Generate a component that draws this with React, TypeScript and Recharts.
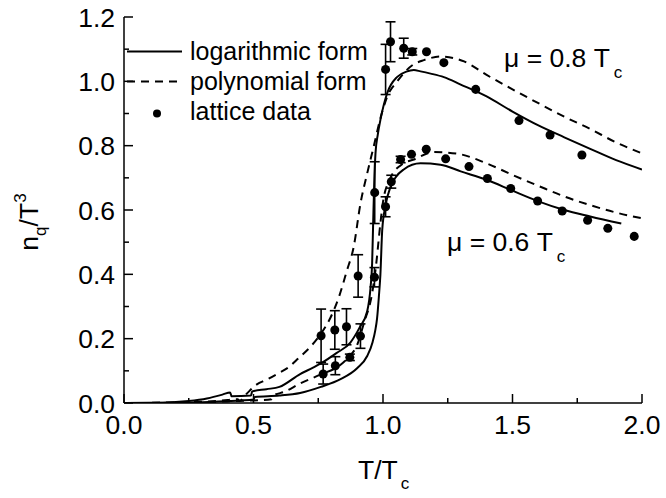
import React from "react";
import { ComposedChart, Line, Scatter, ErrorBar, XAxis, YAxis, Legend } from "recharts";

// curves: [T/Tc, n_q/T^3]
const logHigh: [number, number][] = [
  [0, 0], [0.15, 0.001], [0.25, 0.006], [0.32, 0.014], [0.38, 0.026], [0.41, 0.033],
  [0.415, 0.021], [0.49, 0.023], [0.495, 0.036], [0.55, 0.043], [0.6, 0.05], [0.68, 0.09],
  [0.73, 0.11], [0.76, 0.123], [0.82, 0.155], [0.874, 0.188], [0.91, 0.235], [0.939, 0.285],
  [0.952, 0.36], [0.958, 0.434], [0.962, 0.56], [0.966, 0.68], [0.971, 0.776], [0.98, 0.835],
  [0.99, 0.88], [1.016, 0.963], [1.055, 1.014], [1.09, 1.03], [1.119, 1.035], [1.145, 1.031],
  [1.184, 1.024], [1.235, 1.013], [1.3, 0.99], [1.4, 0.953], [1.5, 0.906], [1.6, 0.863],
  [1.7, 0.826], [1.8, 0.79], [1.9, 0.755], [2.0, 0.726],
];

const polyHigh: [number, number][] = [
  [0, 0], [0.2, 0.001], [0.3, 0.004], [0.4, 0.009], [0.44, 0.012], [0.445, 0.006],
  [0.475, 0.03], [0.513, 0.058], [0.55, 0.072], [0.591, 0.09], [0.642, 0.115], [0.668, 0.135],
  [0.72, 0.175], [0.76, 0.215], [0.797, 0.265], [0.83, 0.33], [0.86, 0.41], [0.887, 0.486],
  [0.913, 0.62], [0.939, 0.714], [0.964, 0.797], [0.99, 0.885], [1.016, 0.952], [1.055, 1.0],
  [1.113, 1.05], [1.158, 1.066], [1.222, 1.077], [1.313, 1.062], [1.4, 1.02], [1.5, 0.975],
  [1.6, 0.932], [1.7, 0.89], [1.8, 0.852], [1.9, 0.81], [2.0, 0.776],
];

const logLow: [number, number][] = [
  [0, 0], [0.25, 0.001], [0.35, 0.004], [0.45, 0.008], [0.5, 0.011], [0.505, 0.019],
  [0.6, 0.023], [0.68, 0.031], [0.76, 0.05], [0.836, 0.074], [0.9, 0.108], [0.939, 0.146],
  [0.96, 0.19], [0.97, 0.225], [0.977, 0.262], [0.984, 0.33], [0.99, 0.4], [0.997, 0.538],
  [1.01, 0.615], [1.029, 0.672], [1.05, 0.703], [1.08, 0.726], [1.145, 0.745], [1.222, 0.741],
  [1.3, 0.72], [1.4, 0.694], [1.5, 0.66], [1.6, 0.627], [1.7, 0.6], [1.8, 0.58], [1.92, 0.558],
];

const polyLow: [number, number][] = [
  [0, 0], [0.3, 0.002], [0.4, 0.005], [0.5, 0.008], [0.57, 0.012], [0.575, 0.022],
  [0.62, 0.035], [0.681, 0.061], [0.758, 0.088], [0.835, 0.118], [0.87, 0.145], [0.9, 0.18],
  [0.926, 0.248], [0.958, 0.341], [0.971, 0.413], [0.99, 0.559], [1.0, 0.625], [1.029, 0.7],
  [1.07, 0.74], [1.119, 0.757], [1.197, 0.78], [1.287, 0.775], [1.4, 0.745], [1.5, 0.709],
  [1.6, 0.675], [1.7, 0.642], [1.8, 0.615], [1.9, 0.592], [2.0, 0.574],
];

// lattice points: [T/Tc, n_q/T^3, error]
const latticeHigh: [number, number, number][] = [
  [0.761, 0.209, 0.083], [0.814, 0.227, 0.06], [0.859, 0.237, 0.056], [0.904, 0.395, 0.066],
  [0.968, 0.654, 0.096], [1.01, 1.037, 0.078], [1.029, 1.123, 0.062], [1.08, 1.103, 0.031],
  [1.113, 1.092, 0.01], [1.168, 1.092, 0], [1.235, 1.058, 0], [1.358, 0.975, 0],
  [1.525, 0.878, 0], [1.645, 0.833, 0], [1.768, 0.771, 0],
];

const latticeLow: [number, number, number][] = [
  [0.769, 0.09, 0.031], [0.816, 0.116, 0.028], [0.872, 0.142, 0.01], [0.913, 0.208, 0.038],
  [0.967, 0.391, 0.03], [1.01, 0.61, 0.031], [1.032, 0.688, 0.02], [1.068, 0.757, 0.01],
  [1.11, 0.773, 0], [1.167, 0.789, 0], [1.242, 0.759, 0], [1.332, 0.735, 0],
  [1.403, 0.698, 0], [1.493, 0.667, 0], [1.597, 0.628, 0], [1.692, 0.597, 0],
  [1.79, 0.568, 0], [1.868, 0.543, 0], [1.97, 0.518, 0],
];

const xTicks = [0, 0.25, 0.5, 0.75, 1, 1.25, 1.5, 1.75, 2];
const yTicks = [0, 0.1, 0.2, 0.3, 0.4, 0.5, 0.6, 0.7, 0.8, 0.9, 1.0, 1.1, 1.2];

const legendItems = [
  { label: "logarithmic form", kind: "solid" },
  { label: "polynomial form", kind: "dashed" },
  { label: "lattice data", kind: "dot" },
];

const ink = "#000";
const font = '"Liberation Sans", Arial, Helvetica, sans-serif';
const dash = "8 6";

const curve = (rows: [number, number][]) => rows.map(([T, n]) => ({ T, n }));
const points = (rows: [number, number, number][]) => rows.map(([T, n, e]) => ({ T, n, e }));

const isMajorX = (v: number) => Math.round(v * 4) % 2 === 0;
const isMajorY = (v: number) => Math.round(v * 10) % 2 === 0;

function BottomTick({ x, y, payload }: any) {
  const major = isMajorX(payload.value);
  return (
    <g>
      <line x1={x} y1={y} x2={x} y2={y - (major ? 9 : 5)} stroke={ink} strokeWidth={1.5} />
      {major && (
        <text x={x} y={y + 31} textAnchor="middle" fontSize={26.5} fill={ink}>
          {payload.value.toFixed(1)}
        </text>
      )}
    </g>
  );
}

function TopTick({ x, y, payload }: any) {
  const major = isMajorX(payload.value);
  return <line x1={x} y1={y} x2={x} y2={y + (major ? 9 : 5)} stroke={ink} strokeWidth={1.5} />;
}

function LeftTick({ x, y, payload }: any) {
  const major = isMajorY(payload.value);
  return (
    <g>
      <line x1={x} y1={y} x2={x + (major ? 9 : 5)} y2={y} stroke={ink} strokeWidth={1.5} />
      {major && (
        <text x={x - 9} y={y + 9.5} textAnchor="end" fontSize={26.5} fill={ink}>
          {payload.value.toFixed(1)}
        </text>
      )}
    </g>
  );
}

function RightTick({ x, y, payload }: any) {
  const major = isMajorY(payload.value);
  return <line x1={x} y1={y} x2={x - (major ? 9 : 5)} y2={y} stroke={ink} strokeWidth={1.5} />;
}

function LegendBox() {
  return (
    <svg width={270} height={96} style={{ display: "block", fontFamily: font }}>
      {legendItems.map((item, i) => {
        const base = 30 + i * 30;
        const mid = base - 8.5;
        return (
          <g key={item.label}>
            {item.kind === "dot" ? (
              <circle cx={30} cy={mid + 2} r={4} fill={ink} />
            ) : (
              <line
                x1={0}
                y1={mid}
                x2={55}
                y2={mid}
                stroke={ink}
                strokeWidth={2}
                strokeDasharray={item.kind === "dashed" ? dash : undefined}
              />
            )}
            <text x={63} y={base} fontSize={25} fill={ink}>
              {item.label}
            </text>
          </g>
        );
      })}
    </svg>
  );
}

export default function App() {
  const lineProps = {
    dataKey: "n",
    stroke: ink,
    strokeWidth: 2,
    dot: false,
    activeDot: false,
    type: "monotone" as const,
    isAnimationActive: false,
  };

  return (
    <div style={{ position: "absolute", left: 0, top: 0, width: 666, height: 498, background: "#fff", fontFamily: font }}>
      <ComposedChart width={666} height={498} margin={{ top: 17, right: 24, left: 0, bottom: 0 }}>
        <XAxis
          dataKey="T"
          type="number"
          domain={[0, 2]}
          ticks={xTicks}
          interval={0}
          height={95}
          tickSize={0}
          tickMargin={0}
          tickLine={false}
          tick={<BottomTick />}
          axisLine={{ stroke: ink, strokeWidth: 1.5 }}
          allowDataOverflow
        />
        <XAxis
          xAxisId="top"
          orientation="top"
          type="number"
          domain={[0, 2]}
          ticks={xTicks}
          interval={0}
          height={0}
          tickSize={0}
          tickMargin={0}
          tickLine={false}
          tick={<TopTick />}
          axisLine={{ stroke: ink, strokeWidth: 1.5 }}
          allowDataOverflow
        />
        <YAxis
          type="number"
          domain={[0, 1.2]}
          ticks={yTicks}
          interval={0}
          width={124}
          tickSize={0}
          tickMargin={0}
          tickLine={false}
          tick={<LeftTick />}
          axisLine={{ stroke: ink, strokeWidth: 1.5 }}
          allowDataOverflow
        />
        <YAxis
          yAxisId="right"
          orientation="right"
          type="number"
          domain={[0, 1.2]}
          ticks={yTicks}
          interval={0}
          width={0}
          tickSize={0}
          tickMargin={0}
          tickLine={false}
          tick={<RightTick />}
          axisLine={{ stroke: ink, strokeWidth: 1.5 }}
          allowDataOverflow
        />
        <Line {...lineProps} data={curve(logHigh)} />
        <Line {...lineProps} data={curve(polyHigh)} strokeDasharray={dash} />
        <Line {...lineProps} data={curve(logLow)} />
        <Line {...lineProps} data={curve(polyLow)} strokeDasharray={dash} />
        <Scatter data={points(latticeHigh)} dataKey="n" fill={ink} isAnimationActive={false}>
          <ErrorBar dataKey="e" direction="y" width={5} stroke={ink} strokeWidth={1.6} />
        </Scatter>
        <Scatter data={points(latticeLow)} dataKey="n" fill={ink} isAnimationActive={false}>
          <ErrorBar dataKey="e" direction="y" width={5} stroke={ink} strokeWidth={1.6} />
        </Scatter>
        <Legend
          layout="vertical"
          align="center"
          verticalAlign="middle"
          wrapperStyle={{ left: 127, top: 30, width: 270, height: 96 }}
          content={() => <LegendBox />}
        />
      </ComposedChart>
      <svg
        width={666}
        height={498}
        style={{ position: "absolute", left: 0, top: 0, pointerEvents: "none", fontFamily: font }}
      >
        <text transform="translate(38,222) rotate(-90)" textAnchor="middle" fontSize={26.5} fill={ink}>
          n
          <tspan fontSize={17} dy={8}>q</tspan>
          <tspan dy={-8}>/T</tspan>
          <tspan fontSize={17} dy={-12}>3</tspan>
        </text>
        <text x={358} y={479} fontSize={26.5} fill={ink}>
          T/T
          <tspan fontSize={17} dx={3} dy={10}>c</tspan>
        </text>
        <text x={504} y={67} fontSize={26.5} fill={ink}>
          μ = 0.8 T
          <tspan fontSize={17} dx={4} dy={11}>c</tspan>
        </text>
        <text x={447} y={251} fontSize={26.5} fill={ink}>
          μ = 0.6 T
          <tspan fontSize={17} dx={4} dy={11}>c</tspan>
        </text>
      </svg>
    </div>
  );
}
